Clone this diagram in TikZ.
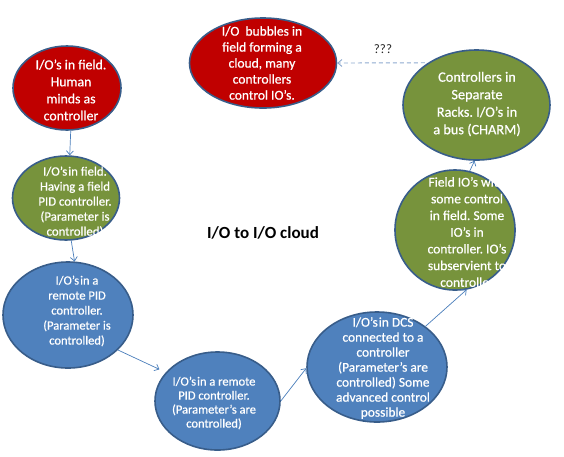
\documentclass[tikz,border=0pt]{standalone}
\usepackage{fontspec}
\setmainfont{Carlito}
\newfontfamily\bubfont{Carlito}[FakeBold=0.6]
\usetikzlibrary{arrows.meta,shapes.geometric}
\definecolor{cred}{HTML}{C00000}
\definecolor{cgreen}{HTML}{77933C}
\definecolor{cblue}{HTML}{4F81BD}
\definecolor{cborder}{HTML}{385D8A}
\definecolor{carrow}{HTML}{4A7EBB}
\definecolor{cdash}{HTML}{8EAAD0}
\frenchspacing
\begin{document}
\begin{tikzpicture}[x=1pt,y=-1pt,
  bub/.style={ellipse, draw=cborder, line width=1.6pt, inner sep=0pt},
  txt/.style={text=white, align=center, inner sep=0pt},
  conn/.style={draw=carrow, line width=0.7pt, -{Straight Barb[length=4pt,width=7pt]}},
  dconn/.style={draw=cdash, line width=0.9pt, dash pattern=on 4pt off 3pt, -{Straight Barb[length=4pt,width=7pt]}},
]
\useasboundingbox (0,0) rectangle (564,456);
\fill[white] (0,0) rectangle (564,456);

% bubbles
\node[bub, fill=cred,   minimum width=108pt, minimum height=84pt]  (e1) at (67,88)    {};
\node[bub, fill=cgreen, minimum width=107pt, minimum height=84pt]  (e2) at (66,198)   {};
\node[bub, fill=cblue,  minimum width=130pt, minimum height=106pt] (e3) at (68,315)   {};
\node[bub, fill=cblue,  minimum width=125pt, minimum height=98pt]  (e4) at (217.5,401){};
\node[bub, fill=cblue,  minimum width=140pt, minimum height=110pt] (e5) at (377,367)  {};
\node[bub, fill=cgreen, minimum width=120pt, minimum height=120pt] (e6) at (455,230)  {};
\node[bub, fill=cgreen, minimum width=147pt, minimum height=110pt] (e7) at (476.5,105){};
\node[bub, fill=cred,   minimum width=147pt, minimum height=90pt]  (e8) at (263,63)   {};

% texts
\node[txt, font=\bubfont\fontsize{13.8}{17}\selectfont] (t1) at (71,90)
  {I/O’s in field.\\Human\\minds as\\controller};
\node[txt, font=\bubfont\fontsize{12.8}{15}\selectfont] (t2) at (75,202)
  {I/O’s\kern1pt in field.\\Having a field\\PID controller.\\(Parameter is\\controlled)};
\node[txt, font=\bubfont\fontsize{12.5}{15}\selectfont] (t3) at (77,311)
  {I/O’s\kern1pt in a\\remote PID\\controller.\\(Parameter is\\controlled)};
\node[txt, font=\bubfont\fontsize{12.5}{14}\selectfont] (t4) at (214,403)
  {I/O’s\kern1pt in a remote\\PID controller.\\(Parameter’s are\\controlled)};
\node[txt, font=\bubfont\fontsize{13.4}{15}\selectfont] (t5) at (383,368)
  {I/O’s\kern1pt in DCS\\connected to a\\controller\\(Parameter’s are\\controlled) Some\\advanced control\\possible};
\node[txt, font=\bubfont\fontsize{13.5}{16.7}\selectfont] (t6) at (467,232)
  {Field IO’s with\\some control\\in field. Some\\IO’s in\\controller. IO’s\\subservient to\\controller};
\node[txt, font=\bubfont\fontsize{14.3}{17.5}\selectfont] (t7) at (477,104)
  {Controllers in\\Separate\\Racks. I/O’s in\\a bus (CHARM)};
\node[txt, font=\bubfont\fontsize{13.5}{16}\selectfont] (t8) at (262,63)
  {I/O~~bubbles in\\field forming a\\cloud, many\\controllers\\control IO’s.};

\node[font=\fontsize{17}{20}\selectfont\bfseries, inner sep=0pt] (title) at (263,233) {I/O to I/O cloud};
\node[font=\fontsize{13}{15}\selectfont, text=black!85, inner sep=0pt] (q) at (383,49) {???};

% connectors
\draw[conn] (e1.-85) -- (e2.85);
\draw[conn] (e2.-83) -- (e3.83);
\draw[conn, shorten >=7pt] (e3.-35) -- (e4.151);
\draw[conn] (e4.east) -- (e5.181);
\draw[conn] (e5.40) -- (e6.-79);
\draw[conn] (e6.76) -- (e7.-92);
\draw[dconn, shorten <=3pt] (e7.139) -- (e8.east);
\end{tikzpicture}
\end{document}
